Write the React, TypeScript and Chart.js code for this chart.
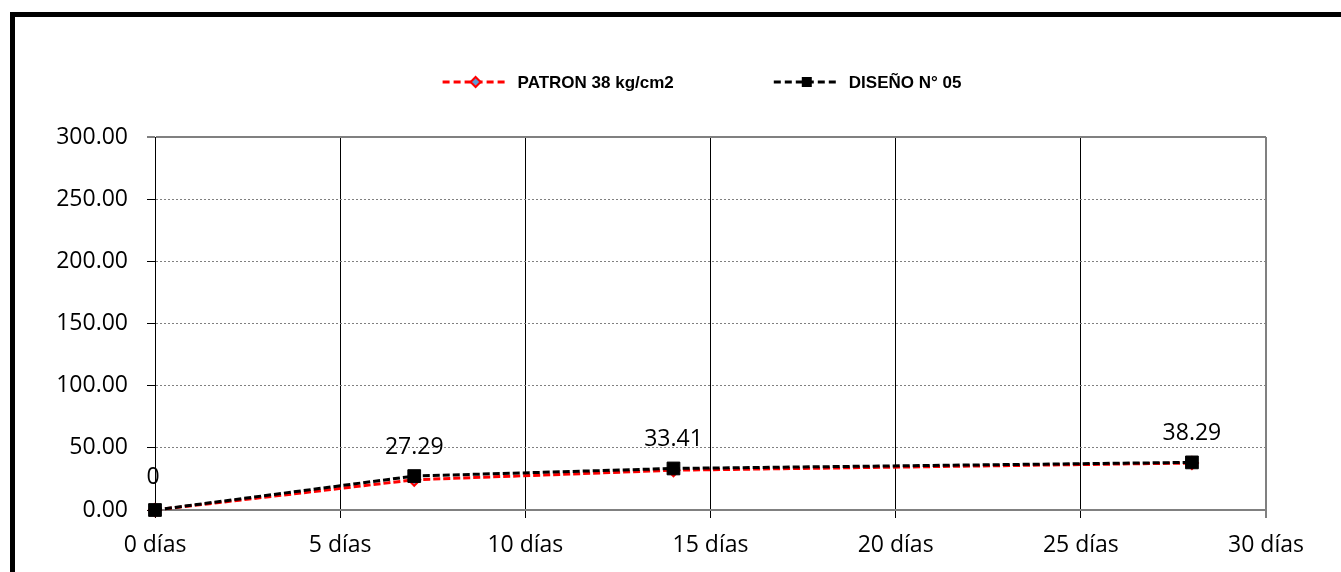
import React, { useEffect, useRef } from 'react';
import { Chart, registerables } from 'chart.js';

Chart.register(...registerables);

// Curing age (days) and compressive strength (kg/cm2)
const days = [0, 7, 14, 28];
const patronValues = [0, 24.3, 32.0, 37.8];
const disenoValues = [0, 27.29, 33.41, 38.29];
const seriesLabels = ['PATRON 38 kg/cm2', 'DISEÑO N° 05'];
const xMax = 30;
const xStep = 5;
const yMax = 300;
const yStep = 50;

const TICK_FONT = "'Open Sans', 'Noto Sans', sans-serif";
const LEGEND_FONT = "bold 17px 'Liberation Sans', Arial, sans-serif";

// Thick black frame around the chart (left and top edges)
const framePlugin = {
  id: 'frame',
  beforeDraw(chart: any) {
    const { ctx, width, height } = chart;
    ctx.save();
    ctx.fillStyle = '#ffffff';
    ctx.fillRect(0, 0, width, height);
    ctx.fillStyle = '#000000';
    ctx.fillRect(10, 12, 5, height);
    ctx.fillRect(10, 12, width, 5);
    ctx.restore();
  },
};

// Legend drawn as line sample + marker + bold label
const legendPlugin = {
  id: 'lineLegend',
  afterDraw(chart: any) {
    const ctx = chart.ctx;
    ctx.save();
    ctx.font = LEGEND_FONT;
    const lineLen = 66;
    const textGap = 9;
    const itemGap = 100;
    const items = chart.data.datasets.map((ds: any) => ({ ds, w: ctx.measureText(ds.label).width }));
    const total =
      items.reduce((s: number, it: any) => s + lineLen + textGap + it.w, 0) + itemGap * (items.length - 1);
    let x = 702 - total / 2;
    const y = 82;
    items.forEach(({ ds, w }: any) => {
      ctx.strokeStyle = ds.borderColor;
      ctx.lineWidth = 3;
      ctx.setLineDash([7, 4]);
      ctx.beginPath();
      ctx.moveTo(x, y);
      ctx.lineTo(x + lineLen, y);
      ctx.stroke();
      ctx.setLineDash([]);
      const mx = x + lineLen / 2;
      if (ds.pointStyle === 'rectRot') {
        ctx.beginPath();
        ctx.moveTo(mx, y - 5);
        ctx.lineTo(mx + 5, y);
        ctx.lineTo(mx, y + 5);
        ctx.lineTo(mx - 5, y);
        ctx.closePath();
        ctx.fillStyle = ds.pointBackgroundColor;
        ctx.fill();
        ctx.lineWidth = 2;
        ctx.strokeStyle = ds.pointBorderColor;
        ctx.stroke();
      } else {
        ctx.fillStyle = ds.pointBackgroundColor;
        ctx.fillRect(mx - 5, y - 5, 10, 10);
      }
      ctx.fillStyle = '#000000';
      ctx.textAlign = 'left';
      ctx.textBaseline = 'middle';
      ctx.fillText(ds.label, x + lineLen + textGap, y + 1);
      x += lineLen + textGap + w + itemGap;
    });
    ctx.restore();
  },
};

// Value labels above the DISEÑO points
const valueLabelPlugin = {
  id: 'valueLabels',
  afterDatasetsDraw(chart: any) {
    const ctx = chart.ctx;
    const idx = 1;
    const meta = chart.getDatasetMeta(idx);
    const data = chart.data.datasets[idx].data as any[];
    ctx.save();
    ctx.font = `23px ${TICK_FONT}`;
    ctx.fillStyle = '#000000';
    ctx.textAlign = 'center';
    ctx.textBaseline = 'alphabetic';
    meta.data.forEach((pt: any, i: number) => {
      const v = data[i].y;
      const text = v === 0 ? '0' : v.toFixed(2);
      ctx.fillText(text, pt.x - (v === 0 ? 2 : 0), pt.y - (v === 0 ? 26 : 22));
    });
    ctx.restore();
  },
};

export default function App() {
  const canvasRef = useRef<HTMLCanvasElement | null>(null);

  useEffect(() => {
    const canvas = canvasRef.current;
    if (!canvas) return;
    const chart = new Chart(canvas, {
      type: 'line',
      data: {
        datasets: [
          {
            label: seriesLabels[0],
            data: days.map((d, i) => ({ x: d, y: patronValues[i] })),
            borderColor: '#ff0000',
            borderWidth: 3,
            borderDash: [7, 3],
            pointStyle: 'rectRot',
            pointRadius: 6,
            pointBackgroundColor: '#5b9bd5',
            pointBorderColor: '#ff0000',
            pointBorderWidth: 2,
            tension: 0,
            clip: false,
            order: 1,
          },
          {
            label: seriesLabels[1],
            data: days.map((d, i) => ({ x: d, y: disenoValues[i] })),
            borderColor: '#000000',
            borderWidth: 3,
            borderDash: [7, 3],
            pointStyle: 'rect',
            pointRadius: 9,
            pointBackgroundColor: '#000000',
            pointBorderColor: '#000000',
            pointBorderWidth: 1,
            tension: 0,
            clip: false,
            order: 0,
          },
        ] as any,
      },
      options: {
        responsive: false,
        animation: false,
        devicePixelRatio: 1,
        layout: { padding: { top: 137, right: 75, left: 0, bottom: 0 } },
        plugins: {
          legend: { display: false },
          tooltip: { enabled: false },
        },
        scales: {
          x: {
            type: 'linear',
            min: 0,
            max: xMax,
            afterFit: (scale: any) => {
              scale.height = 62;
            },
            ticks: {
              stepSize: xStep,
              padding: 14,
              color: '#000000',
              font: { family: TICK_FONT, size: 23 },
              maxRotation: 0,
              callback: (v: any) => `${v} días`,
            },
            grid: {
              color: (c: any) => (c.tick && c.tick.value === xMax ? '#808080' : '#000000'),
              lineWidth: (c: any) => (c.tick && c.tick.value === xMax ? 2 : 1),
              tickColor: '#000000',
              tickWidth: 1,
              tickLength: 8,
            },
            border: { display: true, color: '#808080', width: 2 },
          },
          y: {
            type: 'linear',
            min: 0,
            max: yMax,
            afterFit: (scale: any) => {
              scale.width = 155;
            },
            ticks: {
              stepSize: yStep,
              padding: 19,
              color: '#000000',
              font: { family: TICK_FONT, size: 23 },
              callback: (v: any) => Number(v).toFixed(2),
            },
            grid: {
              color: (c: any) => {
                if (!c.tick) return '#808080';
                if (c.tick.value === 0) return 'rgba(0,0,0,0)';
                return '#808080';
              },
              lineWidth: (c: any) => (c.tick && c.tick.value === yMax ? 2 : 1),
              tickColor: '#000000',
              tickWidth: 1,
              tickLength: 8,
            },
            border: {
              display: true,
              color: '#000000',
              width: 1,
              dash: (c: any) => (c.tick && c.tick.value > 0 && c.tick.value < yMax ? [2, 2] : []),
            },
          },
        },
      } as any,
      plugins: [framePlugin, legendPlugin, valueLabelPlugin],
    });
    return () => chart.destroy();
  }, []);

  return (
    <div style={{ position: 'fixed', left: 0, top: 0, width: 1341, height: 572, background: '#ffffff' }}>
      <canvas ref={canvasRef} width={1341} height={572} style={{ display: 'block' }} />
    </div>
  );
}
